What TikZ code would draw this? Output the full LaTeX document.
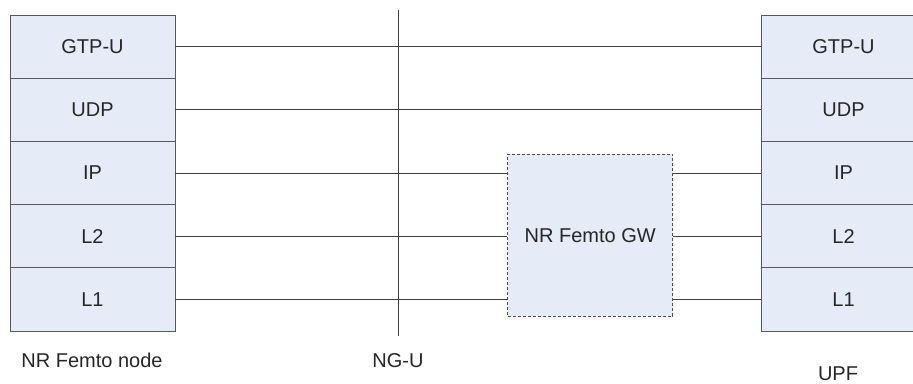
\documentclass[tikz,border=0pt]{standalone}
\usepackage{fontspec}
\setmainfont{Liberation Sans}
\begin{document}
\begin{tikzpicture}[x=1pt,y=-1pt,
  layer/.style={draw=black!65, fill=layerfill, line width=0.9pt,
    minimum width=165pt, minimum height=63.2pt, inner sep=0pt, font=\fontsize{20}{23}\selectfont, text=black!85},
  link/.style={draw=black!75, line width=0.9pt},
  gwbox/.style={draw=black!70, fill=layerfill, line width=0.9pt, dash pattern=on 3pt off 2pt,
    minimum width=165pt, minimum height=162pt, inner sep=0pt, font=\fontsize{20}{23}\selectfont, text=black!85},
  caption/.style={font=\fontsize{20}{23}\selectfont, text=black!85, inner sep=0pt, anchor=base}]
\definecolor{layerfill}{HTML}{E6ECF7}
\useasboundingbox (0,0) rectangle (913,383);
\clip (0,0) rectangle (913,383);
% left stack
\node[layer] (lgtp) at (92.5,46.6) {GTP-U};
\node[layer] (ludp) at (92.5,109.8) {UDP};
\node[layer] (lip)  at (92.5,173.0) {IP};
\node[layer] (ll2)  at (92.5,236.2) {L2};
\node[layer] (ll1)  at (92.5,299.4) {L1};
% right stack
\node[layer] (rgtp) at (843.5,46.6) {GTP-U};
\node[layer] (rudp) at (843.5,109.8) {UDP};
\node[layer] (rip)  at (843.5,173.0) {IP};
\node[layer] (rl2)  at (843.5,236.2) {L2};
\node[layer] (rl1)  at (843.5,299.4) {L1};
% gateway
\node[gwbox] (gw) at (590.2,235.2) {NR Femto GW};
% NG-U line
\coordinate (ngtop) at (398,10);
\coordinate (ngbot) at (398,336);
\draw[link] (ngtop) -- (ngbot);
% connectors
\draw[link] (lgtp.east) -- (rgtp.west);
\draw[link] (ludp.east) -- (rudp.west);
\draw[link] (lip.east) -- (lip.east -| gw.west);
\draw[link] (ll2.east) -- (ll2.east -| gw.west);
\draw[link] (ll1.east) -- (ll1.east -| gw.west);
\draw[link] (rip.west -| gw.east) -- (rip.west);
\draw[link] (rl2.west -| gw.east) -- (rl2.west);
\draw[link] (rl1.west -| gw.east) -- (rl1.west);
% captions
\node[caption] (capnode) at (92,367) {NR Femto node};
\node[caption] (capngu) at (398,367) {NG-U};
\node[caption] (capupf) at (838,380) {UPF};
\end{tikzpicture}
\end{document}
